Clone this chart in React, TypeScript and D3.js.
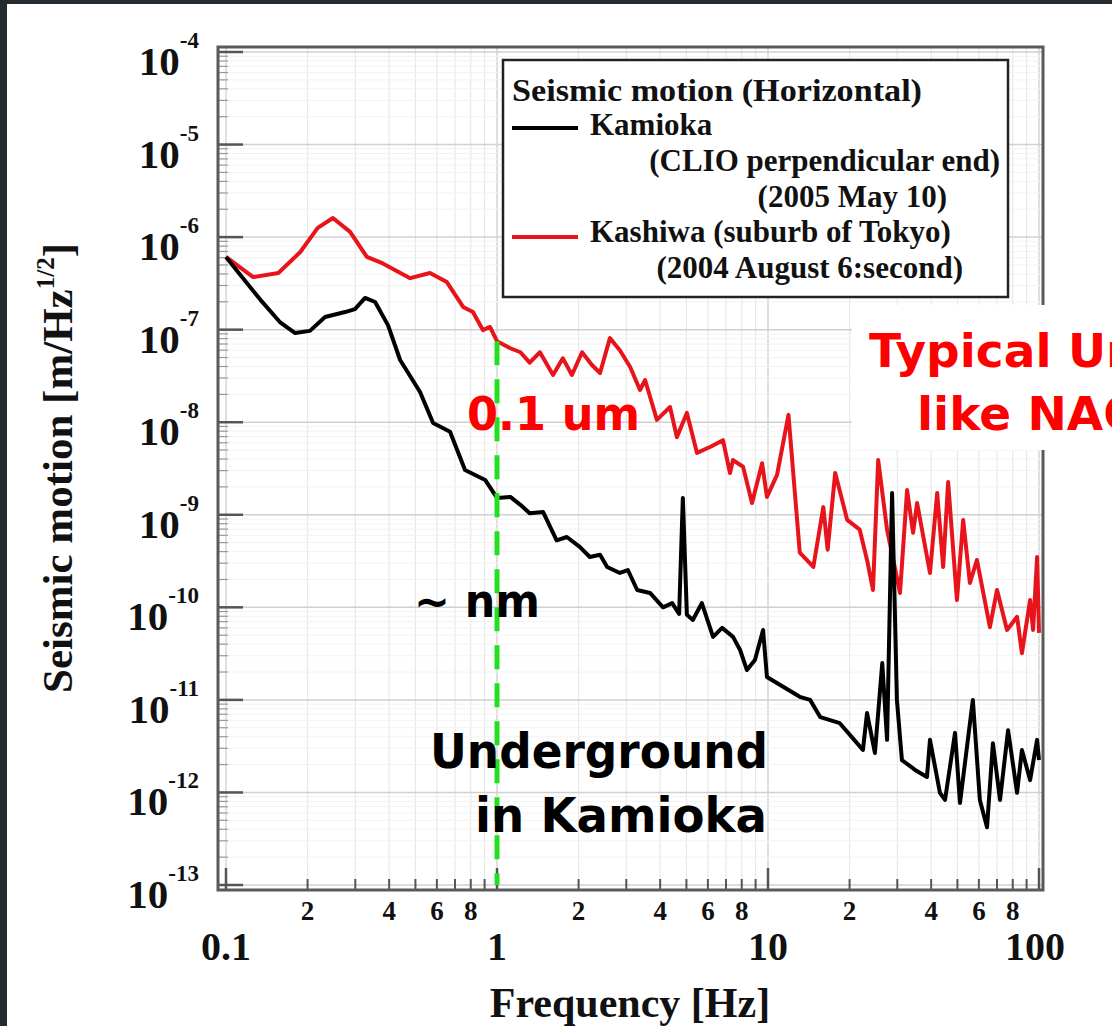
import React from "react";
import * as d3 from "d3";

// Kamioka (black) horizontal seismic spectrum
const kamiokaFreq = [
  0.1, 0.113, 0.134, 0.158, 0.18, 0.204, 0.232, 0.275, 0.299, 0.326, 0.355, 0.396, 0.439, 0.52, 0.581,
  0.671, 0.762, 0.904, 1.0, 1.12, 1.22, 1.32, 1.48, 1.66, 1.81, 2.02, 2.2, 2.4, 2.55, 2.84, 3.04, 3.29,
  3.67, 4.1, 4.43, 4.7, 4.85, 5.02, 5.28, 5.7, 6.27, 6.77, 7.43, 7.89, 8.36, 8.95, 9.59, 9.91, 13.1, 14.3,
  15.6, 18.4, 22.4, 23.2, 24.8, 26.4, 27.5, 28.7, 29.9, 31.2, 34.9, 38.6, 39.6, 43.1, 45.0, 49.0, 51.1,
  57.0, 60.5, 64.3, 67.6, 71.8, 76.9, 83.0, 86.5, 92.7, 98.4, 100,
];
const kamiokaAmp = [
  6.1e-7, 3.9e-7, 2.1e-7, 1.21e-7, 9.2e-8, 9.7e-8, 1.37e-7, 1.55e-7, 1.67e-7, 2.2e-7, 1.99e-7, 1.12e-7,
  4.7e-8, 2.12e-8, 9.8e-9, 7.9e-9, 3.05e-9, 2.38e-9, 1.52e-9, 1.56e-9, 1.28e-9, 1.04e-9, 1.07e-9, 5.3e-10,
  5.75e-10, 4.5e-10, 3.5e-10, 3.7e-10, 2.73e-10, 2.35e-10, 2.53e-10, 1.54e-10, 1.43e-10, 1.0e-10, 1.11e-10,
  8.5e-11, 1.52e-9, 8.3e-11, 7.3e-11, 1.11e-10, 4.8e-11, 6.0e-11, 4.8e-11, 3.46e-11, 2.1e-11, 2.7e-11,
  5.7e-11, 1.77e-11, 1.08e-11, 1.0e-11, 6.5e-12, 5.6e-12, 2.88e-12, 7.2e-12, 2.67e-12, 2.5e-11, 3.7e-12,
  1.72e-9, 1.0e-11, 2.24e-12, 1.75e-12, 1.47e-12, 3.7e-12, 9.9e-13, 8.3e-13, 4.4e-12, 7.7e-13, 1.0e-11,
  8.3e-13, 4.2e-13, 3.4e-12, 8.3e-13, 4.7e-12, 9.9e-13, 2.88e-12, 1.36e-12, 3.7e-12, 2.24e-12,
];

// Kashiwa (red) horizontal seismic spectrum
const kashiwaFreq = [
  0.1, 0.126, 0.156, 0.188, 0.218, 0.248, 0.287, 0.331, 0.379, 0.478, 0.566, 0.653, 0.75, 0.815, 0.887,
  0.942, 1.0, 1.12, 1.22, 1.32, 1.44, 1.61, 1.75, 1.89, 2.06, 2.24, 2.4, 2.61, 2.84, 3.1, 3.37, 3.52, 3.89,
  4.35, 4.61, 5.02, 5.47, 6.11, 6.82, 7.24, 7.43, 8.09, 8.73, 9.51, 9.91, 10.8, 11.9, 13.1, 14.7, 16.0,
  16.6, 17.7, 19.6, 21.8, 23.2, 24.4, 25.5, 27.5, 30.7, 32.6, 34.3, 35.5, 39.6, 42.1, 44.3, 46.2, 49.8,
  52.5, 55.6, 59.0, 65.9, 70.0, 76.2, 83.0, 86.5, 92.7, 95.1, 98.4, 100,
];
const kashiwaAmp = [
  6.1e-7, 3.7e-7, 4.1e-7, 6.9e-7, 1.26e-6, 1.61e-6, 1.14e-6, 6.1e-7, 5.2e-7, 3.6e-7, 4.1e-7, 3.27e-7,
  1.76e-7, 1.55e-7, 9.9e-8, 1.07e-7, 7.5e-8, 6.3e-8, 5.7e-8, 4.4e-8, 5.7e-8, 3.24e-8, 4.9e-8, 3.24e-8,
  5.7e-8, 4.15e-8, 3.4e-8, 8.1e-8, 6.0e-8, 3.95e-8, 2.23e-8, 2.86e-8, 1.06e-8, 1.46e-8, 6.9e-9, 1.26e-8,
  4.66e-9, 5.4e-9, 6.4e-9, 2.83e-9, 3.9e-9, 3.3e-9, 1.34e-9, 3.6e-9, 1.56e-9, 2.7e-9, 1.2e-8, 3.9e-10,
  2.73e-10, 1.21e-9, 4.2e-10, 2.83e-9, 8.8e-10, 6.9e-10, 3.25e-10, 1.54e-10, 3.9e-9, 6.9e-10, 1.43e-10,
  1.85e-9, 6.4e-10, 1.34e-9, 2.35e-10, 1.72e-9, 2.73e-10, 2.26e-9, 1.2e-10, 8.8e-10, 1.83e-10, 3.25e-10,
  6.1e-11, 1.54e-10, 5.7e-11, 7.9e-11, 3.2e-11, 1.2e-10, 5.7e-11, 3.5e-10, 5.3e-11,
];

const yExponents = [-4, -5, -6, -7, -8, -9, -10, -11, -12, -13];
const xMajor = [0.1, 1, 10, 100];
const xMajorLabels = ["0.1", "1", "10", "100"];
const xMinorMult = [2, 3, 4, 5, 6, 7, 8, 9];
const xMinorLabelled = [2, 4, 6, 8];

const legendTitle = "Seismic motion (Horizontal)";
const kamiokaLabel = ["Kamioka", "(CLIO perpendicular end)", "(2005 May 10)"];
const kashiwaLabel = ["Kashiwa (suburb of Tokyo)", "(2004 August 6:second)"];

const width = 1112;
const height = 1026;
const serif = "'Liberation Serif', 'Times New Roman', serif";
const sans = "'DejaVu Sans', sans-serif";

const App = () => {
  // plot frame
  const left = 218, right = 1043, top = 47, bottom = 890;

  const x = d3.scaleLog().domain([0.1, 100]).range([226, 1039]);
  const y = d3.scaleLog().domain([1e-13, 1e-4]).range([885, 52]);

  const line = d3
    .line<[number, number]>()
    .x((d) => x(d[0]))
    .y((d) => y(d[1]));

  const kamioka = kamiokaFreq.map((f, i) => [f, kamiokaAmp[i]] as [number, number]);
  const kashiwa = kashiwaFreq.map((f, i) => [f, kashiwaAmp[i]] as [number, number]);

  const minorX: number[] = [];
  [0.1, 1, 10].forEach((dec) => xMinorMult.forEach((k) => minorX.push(dec * k)));

  const minorY: number[] = [];
  yExponents.slice(1).forEach((e) => {
    for (let k = 2; k <= 9; k++) minorY.push(k * Math.pow(10, e));
  });

  // value of Kashiwa at 1 Hz, where the green marker starts
  const redAt1 = kashiwaAmp[kashiwaFreq.indexOf(1.0)];

  return (
    <div style={{ position: "absolute", left: 0, top: 0 }}>
      <style>{`body { margin: 0; }`}</style>
      <svg width={width} height={height} style={{ display: "block" }}>
        <defs>
          <clipPath id="plotClip">
            <rect x={left} y={top} width={right - left} height={bottom - top} />
          </clipPath>
        </defs>
        <rect x={0} y={0} width={width} height={height} fill="#262a31" />
        <rect x={7} y={4} width={width - 7} height={height - 4} fill="#ffffff" />

        {/* grid */}
        {minorX.map((v) => (
          <line key={"gx" + v} x1={x(v)} x2={x(v)} y1={top} y2={bottom} stroke="#e8e8e8" strokeWidth={1.2} />
        ))}
        {xMajor.map((v) => (
          <line key={"gX" + v} x1={x(v)} x2={x(v)} y1={top} y2={bottom} stroke="#d4d4d4" strokeWidth={1.5} />
        ))}
        {minorY.map((v, i) => (
          <line key={"gy" + i} x1={left} x2={right} y1={y(v)} y2={y(v)} stroke="#f2f2f2" strokeWidth={1} />
        ))}
        {yExponents.map((e) => (
          <line key={"gY" + e} x1={left} x2={right} y1={y(Math.pow(10, e))} y2={y(Math.pow(10, e))}
            stroke="#d0d0d0" strokeWidth={1.5} />
        ))}

        {/* ticks */}
        {yExponents.map((e) => (
          <line key={"ty" + e} x1={left} x2={left + 25} y1={y(Math.pow(10, e))} y2={y(Math.pow(10, e))}
            stroke="#555" strokeWidth={2.5} />
        ))}
        {minorY.map((v, i) => (
          <line key={"tmy" + i} x1={left} x2={left + 10} y1={y(v)} y2={y(v)} stroke="#999" strokeWidth={1.2} />
        ))}
        {minorX.map((v) => (
          <line key={"tx" + v} x1={x(v)} x2={x(v)} y1={bottom} y2={bottom - 11} stroke="#555" strokeWidth={2} />
        ))}
        {xMajor.map((v) => (
          <line key={"tX" + v} x1={x(v)} x2={x(v)} y1={bottom} y2={bottom - 22} stroke="#555" strokeWidth={2.5} />
        ))}

        {/* curves */}
        <g clipPath="url(#plotClip)" fill="none" strokeLinejoin="round">
          <path d={line(kashiwa) || ""} stroke="#e8141b" strokeWidth={4} />
          <path d={line(kamioka) || ""} stroke="#000" strokeWidth={4} />
        </g>

        {/* frame */}
        <rect x={left} y={top} width={right - left} height={bottom - top} fill="none" stroke="#5a5a5a" strokeWidth={3} />

        {/* legend */}
        <g fontFamily={serif} fontWeight="bold" fontSize={31} fill="#111">
          <rect x={503} y={60} width={505} height={237} fill="#fff" stroke="#222" strokeWidth={2.5} />
          <text x={512} y={101} fontSize={32} textLength={410} lengthAdjust="spacingAndGlyphs">{legendTitle}</text>
          <line x1={512} x2={578} y1={128} y2={128} stroke="#000" strokeWidth={4} />
          <text x={590} y={135}>{kamiokaLabel[0]}</text>
          <text x={1000} y={171} textAnchor="end">{kamiokaLabel[1]}</text>
          <text x={947} y={207} textAnchor="end">{kamiokaLabel[2]}</text>
          <line x1={512} x2={578} y1={237} y2={237} stroke="#e8141b" strokeWidth={4} />
          <text x={590} y={242}>{kashiwaLabel[0]}</text>
          <text x={963} y={278} textAnchor="end">{kashiwaLabel[1]}</text>
        </g>

        {/* y tick labels */}
        <g fontFamily={serif} fontWeight="bold" fill="#111">
          {yExponents.map((e) => (
            <text key={"ly" + e} x={199} y={y(Math.pow(10, e)) + 23} textAnchor="end" fontSize={41}>
              10<tspan dy={-27} fontSize={23}>{"-" + Math.abs(e)}</tspan>
            </text>
          ))}
        </g>

        {/* x tick labels */}
        <g fontFamily={serif} fontWeight="bold" fill="#111" textAnchor="middle">
          {xMajor.map((v, i) => (
            <text key={"lx" + v} x={x(v) - (i === 3 ? 4 : 0)} y={960} fontSize={40}>{xMajorLabels[i]}</text>
          ))}
          {[0.1, 1, 10].map((dec) =>
            xMinorLabelled.map((k) => (
              <text key={"lmx" + dec * k} x={x(dec * k)} y={920} fontSize={27}>{k}</text>
            ))
          )}
        </g>

        {/* axis titles */}
        <text x={630} y={1017} textAnchor="middle" fontFamily={serif} fontWeight="bold" fontSize={42} fill="#111">
          Frequency [Hz]
        </text>
        <text transform="translate(72,468) rotate(-90)" textAnchor="middle" fontFamily={serif}
          fontWeight="bold" fontSize={43} fill="#111">
          Seismic motion [m/Hz<tspan dy={-18} fontSize={25}>1/2</tspan><tspan dy={18}>]</tspan>
        </text>

        {/* green marker at 1 Hz */}
        <line x1={x(1)} x2={x(1)} y1={y(redAt1)} y2={885} stroke="#22e01e" strokeWidth={5} strokeDasharray="24 14" />

        {/* annotations */}
        <g fontFamily={sans} fontWeight="bold">
          <text x={467} y={430} fontSize={46} fill="#ff0000" textLength={173} lengthAdjust="spacingAndGlyphs">0.1 um</text>
          <text x={414} y={617} fontSize={46} fill="#000" textLength={126} lengthAdjust="spacingAndGlyphs">~ nm</text>
          <text x={430} y={768} fontSize={48} fill="#000" textLength={338} lengthAdjust="spacingAndGlyphs">Underground</text>
          <text x={475} y={832} fontSize={48} fill="#000" textLength={292} lengthAdjust="spacingAndGlyphs">in Kamioka</text>
          <rect x={852} y={305} width={width - 852} height={145} fill="#fff" />
          <text x={869} y={367} fontSize={47} fill="#ff0000">Typical Urban</text>
          <text x={917} y={430} fontSize={47} fill="#ff0000">like NAOJ</text>
        </g>
      </svg>
    </div>
  );
};

export default App;
